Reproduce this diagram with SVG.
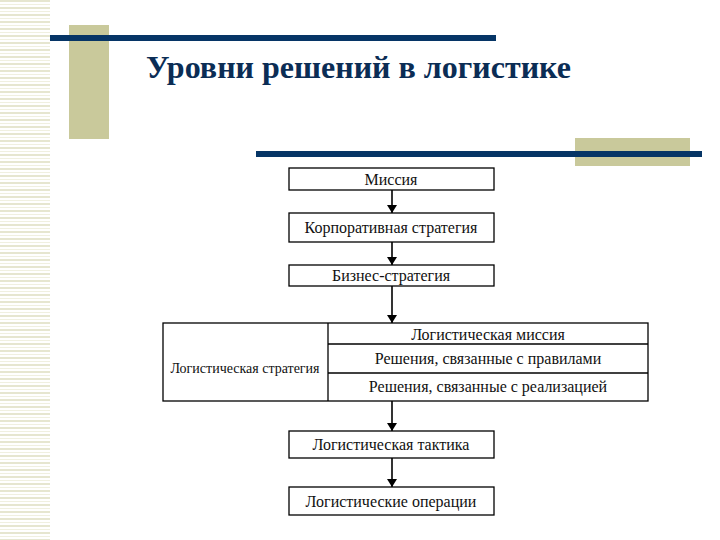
<svg xmlns="http://www.w3.org/2000/svg" width="720" height="540" viewBox="0 0 720 540">
<defs>
<pattern id="stripes" x="0" y="0" width="50" height="7" patternUnits="userSpaceOnUse">
<rect x="0" y="0" width="50" height="2" fill="#e6e6d0"/>
<rect x="0" y="4" width="50" height="1" fill="#f0f0e0"/>
</pattern>
<marker id="arr" viewBox="0 0 8 10" refX="8" refY="5" markerWidth="8" markerHeight="10" orient="auto" markerUnits="userSpaceOnUse">
<path d="M0,0 L8,5 L0,10 Z" fill="#000"/>
</marker>
</defs>
<style>
.box{fill:#fff;stroke:#000;stroke-width:1.3}
.t{font-family:"Liberation Serif","Times New Roman",serif;font-size:16px;fill:#111;text-anchor:middle}
.s{font-size:14px}
.title{font-family:"Liberation Serif","Times New Roman",serif;font-size:32px;font-weight:bold;fill:#0b2d55}
.conn{stroke:#000;stroke-width:1.6;fill:none}
.div{stroke:#000;stroke-width:1.3;fill:none}
</style>
<rect width="720" height="540" fill="#fff"/>
<g id="decor">
<rect x="0" y="0" width="50" height="540" fill="url(#stripes)"/>
<rect x="69" y="25" width="40" height="114" fill="#c9c99b"/>
<rect x="50" y="35" width="446" height="6" fill="#063566"/>
<rect x="575" y="138" width="115" height="28" fill="#c9c99b"/>
<rect x="256" y="151" width="446" height="6" fill="#063566"/>
</g>
<text class="title" x="146" y="78">Уровни решений в логистике</text>
<g id="connectors">
<line class="conn" x1="392" y1="190" x2="392" y2="213" marker-end="url(#arr)"/>
<line class="conn" x1="392" y1="242" x2="392" y2="265" marker-end="url(#arr)"/>
<line class="conn" x1="392" y1="286" x2="392" y2="323" marker-end="url(#arr)"/>
<line class="conn" x1="392" y1="401" x2="392" y2="431" marker-end="url(#arr)"/>
<line class="conn" x1="392" y1="458" x2="392" y2="487" marker-end="url(#arr)"/>
</g>
<g id="mission">
<rect class="box" x="289" y="168" width="205" height="22"/>
<text class="t" x="391" y="185">Миссия</text>
</g>
<g id="corporate">
<rect class="box" x="289" y="213" width="205" height="29"/>
<text class="t" x="391" y="233">Корпоративная стратегия</text>
</g>
<g id="business">
<rect class="box" x="289" y="265" width="205" height="21"/>
<text class="t" x="391" y="281">Бизнес-стратегия</text>
</g>
<g id="logistics-strategy">
<rect class="box" x="163" y="323" width="485" height="78"/>
<line class="div" x1="328" y1="323" x2="328" y2="401"/>
<line class="div" x1="328" y1="344" x2="648" y2="344"/>
<line class="div" x1="328" y1="373" x2="648" y2="373"/>
<text class="t s" x="245" y="373">Логистическая стратегия</text>
<text class="t" x="488" y="340">Логистическая миссия</text>
<text class="t" x="488" y="364">Решения, связанные с правилами</text>
<text class="t" x="488" y="392">Решения, связанные с реализацией</text>
</g>
<g id="tactics">
<rect class="box" x="289" y="431" width="205" height="27"/>
<text class="t" x="391" y="450">Логистическая тактика</text>
</g>
<g id="operations">
<rect class="box" x="289" y="487" width="205" height="28"/>
<text class="t" x="391" y="507">Логистические операции</text>
</g>
</svg>
